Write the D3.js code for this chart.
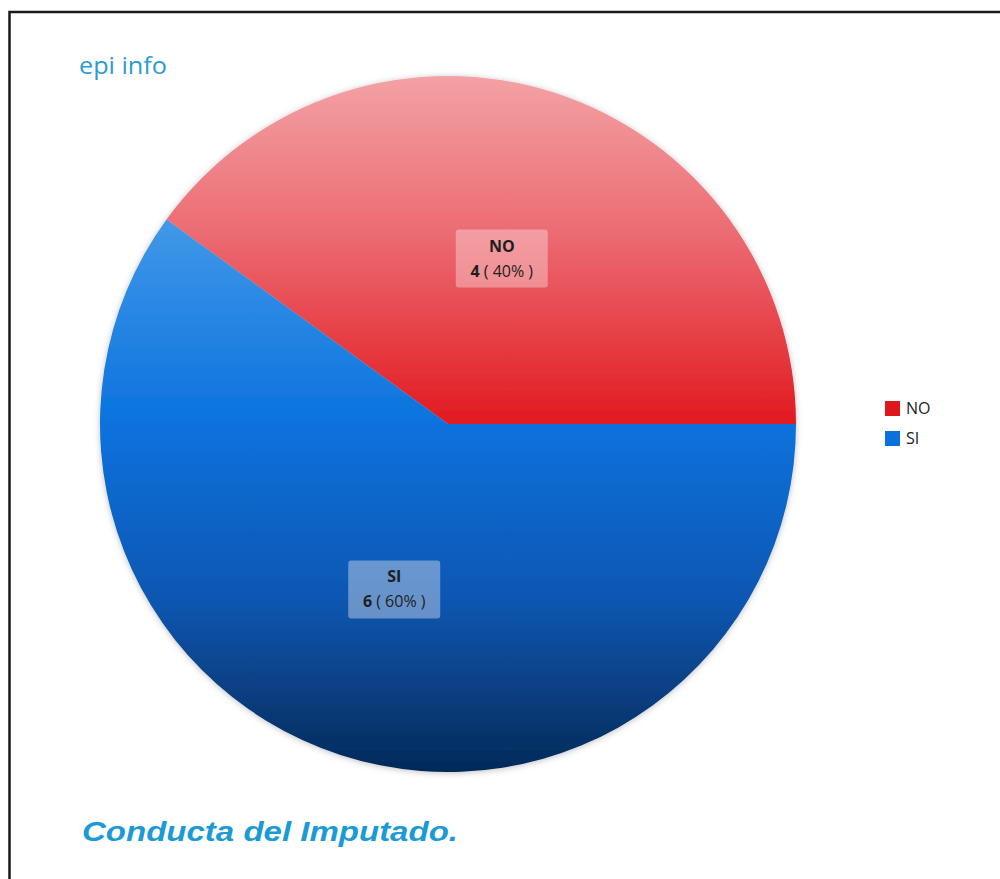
<!DOCTYPE html>
<html>
<head>
<meta charset="utf-8">
<script src="https://cdn.jsdelivr.net/npm/d3@7"></script>
<style>
  html, body { margin: 0; padding: 0; background: #fff; }
  svg { display: block; }
</style>
</head>
<body>
<svg id="chart" width="1000" height="879"></svg>
<script>
const categories = ["NO", "SI"];
const counts = [4, 6];
const percentLabels = ["40%", "60%"];
const legendLabels = ["NO", "SI"];
const titleText = "Conducta del Imputado.";
const brandText = "epi info";

const W = 1000, H = 879;
const cx = 448, cy = 424, R = 348;

const svg = d3.select("#chart");
const defs = svg.append("defs");

// gradients (vertical, spanning whole pie)
const gradStops = {
  NO: [[0, "#f3a2a5"], [0.22, "#ec6d74"], [0.5, "#e11a20"], [1, "#b00e14"]],
  SI: [[0, "#6ab0f0"], [0.2, "#4399e8"], [0.5, "#0a72de"], [0.75, "#0857b2"], [1, "#062a58"]]
};
categories.forEach(c => {
  const g = defs.append("linearGradient")
    .attr("id", "grad-" + c)
    .attr("gradientUnits", "userSpaceOnUse")
    .attr("x1", 0).attr("x2", 0)
    .attr("y1", -R).attr("y2", R);
  gradStops[c].forEach(s => g.append("stop").attr("offset", s[0]).attr("stop-color", s[1]));
});
const f = defs.append("filter").attr("id", "shadow")
  .attr("x", "-10%").attr("y", "-10%").attr("width", "120%").attr("height", "120%");
f.append("feDropShadow").attr("dx", 0).attr("dy", 1).attr("stdDeviation", 3)
  .attr("flood-color", "#000").attr("flood-opacity", 0.25);

// frame
svg.append("rect")
  .attr("x", 9.5).attr("y", 12).attr("width", 1010).attr("height", 900)
  .attr("fill", "none").attr("stroke", "#1a1a1a").attr("stroke-width", 2.5);

// brand
svg.append("text")
  .attr("x", 79).attr("y", 74)
  .attr("font-family", "Open Sans, Noto Sans, sans-serif")
  .attr("font-size", 23)
  .attr("fill", "#2c9bd3")
  .attr("textLength", 88).attr("lengthAdjust", "spacingAndGlyphs")
  .text(brandText);

const color = d3.scaleOrdinal().domain(categories).range(["#e0161d", "#0a70dc"]);

const data = categories.map((c, i) => ({ cat: c, value: counts[i], pct: percentLabels[i] }));
const pie = d3.pie().value(d => d.value).sort(null)
  .startAngle(Math.PI / 2).endAngle(Math.PI / 2 - 2 * Math.PI);
const arcs = pie(data);
const arc = d3.arc().innerRadius(0).outerRadius(R);
const labelArc = d3.arc().innerRadius(R * 0.5).outerRadius(R * 0.5);

const g = svg.append("g").attr("transform", `translate(${cx},${cy})`);
g.append("g").attr("filter", "url(#shadow)")
  .selectAll("path").data(arcs).join("path")
  .attr("d", arc)
  .attr("fill", d => `url(#grad-${d.data.cat})`);

// labels
const lab = g.selectAll("g.lab").data(arcs).join("g")
  .attr("class", "lab")
  .attr("transform", d => `translate(${labelArc.centroid(d)})`);
lab.append("rect")
  .attr("x", -46).attr("y", -29).attr("width", 92).attr("height", 58)
  .attr("rx", 3)
  .attr("fill", d => d.data.cat === "NO" ? "#ffffff" : "#e4e6f0")
  .attr("fill-opacity", d => d.data.cat === "NO" ? 0.34 : 0.42);
lab.append("text")
  .attr("text-anchor", "middle").attr("y", -7)
  .attr("font-family", "Open Sans, Noto Sans, sans-serif")
  .attr("font-size", 16).attr("font-weight", "bold").attr("fill", "#1e1e1e")
  .text(d => d.data.cat);
const t2 = lab.append("text")
  .attr("text-anchor", "middle").attr("y", 18)
  .attr("font-family", "Open Sans, Noto Sans, sans-serif")
  .attr("font-size", 16).attr("fill", "#1e1e1e");
t2.append("tspan").attr("font-weight", "bold").text(d => d.data.value);
t2.append("tspan").text(d => " ( " + d.data.pct + " )");

// legend
const leg = svg.append("g").attr("transform", "translate(885,401)");
const li = leg.selectAll("g").data(legendLabels).join("g")
  .attr("transform", (d, i) => `translate(0,${i * 30})`);
li.append("rect").attr("width", 15).attr("height", 15)
  .attr("fill", d => color(d));
li.append("text").attr("x", 21).attr("y", 13)
  .attr("font-family", "Open Sans, Noto Sans, sans-serif")
  .attr("font-size", 16).attr("fill", "#222")
  .text(d => d);

// title
svg.append("text")
  .attr("x", 82).attr("y", 841)
  .attr("font-family", "Liberation Sans, Arial, sans-serif")
  .attr("font-size", 28).attr("font-weight", "bold").attr("font-style", "italic")
  .attr("fill", "#1b9ad6")
  .attr("textLength", 376).attr("lengthAdjust", "spacingAndGlyphs")
  .text(titleText);
</script>
</body>
</html>
